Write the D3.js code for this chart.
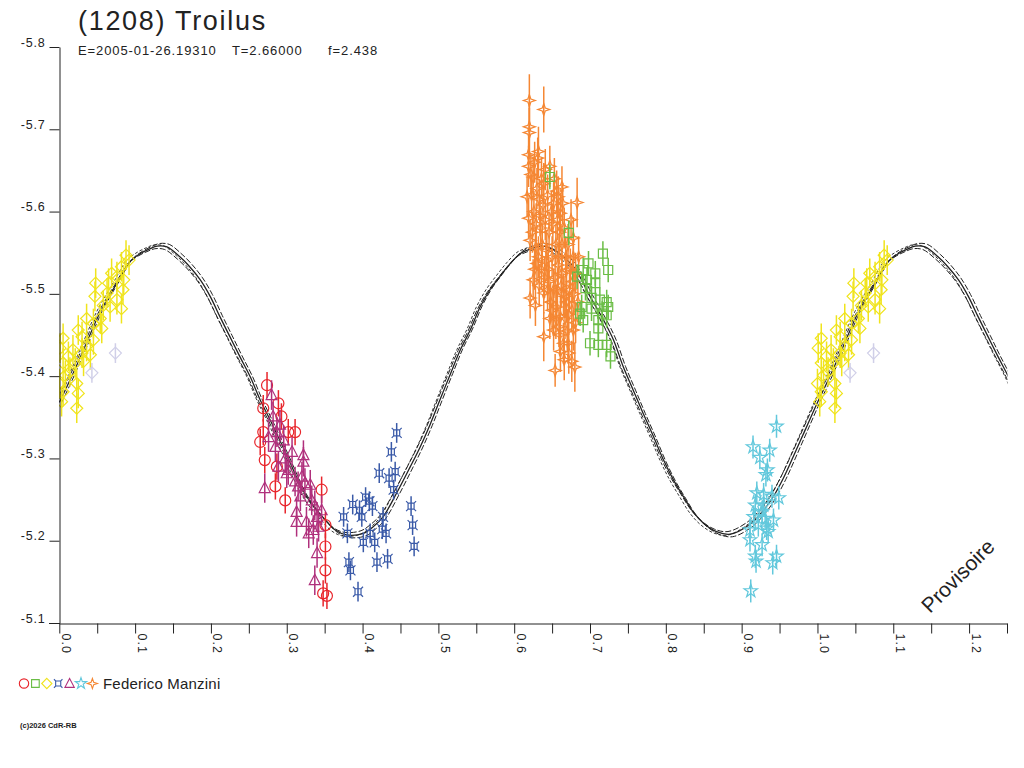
<!DOCTYPE html>
<html>
<head>
<meta charset="utf-8">
<script src="https://cdn.jsdelivr.net/npm/d3@7"></script>
<style>
body{margin:0;background:#fff}
svg{display:block;font-family:"Liberation Sans",Arial,sans-serif}
</style>
</head>
<body>
<svg id="chart" width="1024" height="768"></svg>
<script>
// header texts
var titleText='(1208) Troilus';
var paramTexts=['E=2005-01-26.19310','T=2.66000','f=2.438'];
var observer='Federico Manzini';

// axis ticks
var yTickValues=[-5.8,-5.7,-5.6,-5.5,-5.4,-5.3,-5.2,-5.1];
var xTickValues=[0,0.05,0.1,0.15,0.2,0.25,0.3,0.35,0.4,0.45,0.5,0.55,0.6,0.65,0.7,0.75,0.8,0.85,0.9,0.95,1.0,1.05,1.1,1.15,1.2,1.25];

// fitted lightcurve, phase / mag
var fitCurve=[[0.000,-5.368],[0.014,-5.395],[0.032,-5.432],[0.054,-5.478],[0.076,-5.513],[0.093,-5.539],
 [0.107,-5.549],[0.120,-5.555],[0.129,-5.558],[0.142,-5.557],[0.159,-5.545],[0.172,-5.533],[0.186,-5.517],
 [0.199,-5.497],[0.212,-5.472],[0.225,-5.448],[0.238,-5.424],[0.252,-5.399],[0.265,-5.371],[0.278,-5.347],
 [0.298,-5.308],[0.326,-5.254],[0.351,-5.225],[0.364,-5.213],[0.379,-5.207],[0.401,-5.209],[0.414,-5.217],
 [0.427,-5.229],[0.445,-5.258],[0.463,-5.290],[0.476,-5.314],[0.489,-5.341],[0.502,-5.371],[0.516,-5.403],
 [0.529,-5.432],[0.542,-5.456],[0.555,-5.484],[0.568,-5.505],[0.581,-5.521],[0.595,-5.537],[0.608,-5.549],
 [0.617,-5.553],[0.635,-5.558],[0.650,-5.555],[0.665,-5.545],[0.680,-5.531],[0.700,-5.497],[0.718,-5.468],
 [0.731,-5.444],[0.744,-5.411],[0.757,-5.383],[0.770,-5.355],[0.784,-5.326],[0.797,-5.298],[0.810,-5.274],
 [0.823,-5.254],[0.836,-5.235],[0.850,-5.221],[0.867,-5.211],[0.885,-5.208],[0.911,-5.220],[0.929,-5.237],
 [0.942,-5.254],[0.955,-5.276],[0.968,-5.302],[0.984,-5.335],[1.000,-5.368]];

// observations: [phase, mag, err]
var red=[[0.274,-5.389],[0.269,-5.361],[0.289,-5.367],[0.293,-5.351],[0.269,-5.332],[0.265,-5.320],[0.271,-5.298],
 [0.311,-5.332],[0.302,-5.332],[0.287,-5.290],[0.285,-5.266],[0.298,-5.249],[0.346,-5.262],[0.351,-5.219],
 [0.351,-5.193],[0.351,-5.164],[0.348,-5.136],[0.353,-5.133]];
var magenta=[[0.280,-5.377],[0.282,-5.351],[0.291,-5.341],[0.287,-5.332],[0.276,-5.326],[0.296,-5.322],[0.285,-5.314],
 [0.307,-5.308],[0.322,-5.304],[0.298,-5.300],[0.322,-5.296],[0.289,-5.290],[0.302,-5.286],[0.300,-5.282],
 [0.320,-5.278],[0.311,-5.272],[0.324,-5.270],[0.315,-5.266],[0.331,-5.268],[0.271,-5.264],[0.318,-5.254],
 [0.333,-5.249],[0.337,-5.243],[0.346,-5.237],[0.313,-5.235],[0.340,-5.229],[0.326,-5.223],[0.313,-5.223],
 [0.342,-5.217],[0.335,-5.213],[0.329,-5.209],[0.340,-5.185],[0.337,-5.152]];
var yellow=[[0.088,-5.547],[0.092,-5.541],[0.082,-5.533],[0.076,-5.521],[0.069,-5.525],[0.048,-5.513],[0.085,-5.517],
 [0.065,-5.513],[0.063,-5.501],[0.084,-5.505],[0.047,-5.497],[0.076,-5.493],[0.058,-5.486],[0.067,-5.484],
 [0.082,-5.482],[0.036,-5.470],[0.054,-5.470],[0.045,-5.464],[0.056,-5.458],[0.025,-5.456],[0.030,-5.448],
 [0.005,-5.446],[0.045,-5.444],[0.001,-5.434],[0.036,-5.436],[0.018,-5.432],[0.030,-5.428],[0.041,-5.426],
 [0.012,-5.424],[0.005,-5.416],[0.021,-5.416],[0.032,-5.418],[0.014,-5.405],[0.008,-5.401],[0.000,-5.391],
 [0.023,-5.391],[0.005,-5.381],[0.025,-5.379],[0.003,-5.369],[0.023,-5.361]];
var lavender=[[0.074,-5.428],[0.043,-5.404]];
var blue=[[0.445,-5.331],[0.438,-5.308],[0.422,-5.282],[0.443,-5.284],[0.435,-5.276],[0.441,-5.262],[0.404,-5.253],
 [0.387,-5.244],[0.413,-5.242],[0.409,-5.248],[0.396,-5.237],[0.399,-5.229],[0.375,-5.229],[0.464,-5.242],
 [0.466,-5.219],[0.427,-5.229],[0.426,-5.214],[0.431,-5.209],[0.380,-5.209],[0.410,-5.209],[0.401,-5.198],
 [0.416,-5.198],[0.468,-5.193],[0.433,-5.178],[0.419,-5.174],[0.382,-5.174],[0.384,-5.164],[0.394,-5.138]];
var green=[[0.647,-5.642],[0.672,-5.574],[0.717,-5.549],[0.698,-5.537],[0.724,-5.529],[0.691,-5.529],[0.707,-5.525],
 [0.696,-5.517],[0.707,-5.513],[0.694,-5.507],[0.713,-5.493],[0.702,-5.495],[0.722,-5.490],[0.724,-5.484],
 [0.702,-5.482],[0.716,-5.476],[0.691,-5.468],[0.711,-5.468],[0.722,-5.474],[0.711,-5.458],[0.700,-5.440],
 [0.711,-5.438],[0.722,-5.438],[0.727,-5.424],[0.689,-5.484],[0.687,-5.476],[0.683,-5.521]];
var cyan=[[0.946,-5.339],[0.915,-5.314],[0.937,-5.310],[0.924,-5.301],[0.934,-5.286],[0.932,-5.280],[0.920,-5.258],
 [0.929,-5.256],[0.940,-5.254],[0.949,-5.252],[0.918,-5.243],[0.929,-5.243],[0.927,-5.235],[0.916,-5.229],
 [0.931,-5.227],[0.942,-5.225],[0.922,-5.219],[0.933,-5.215],[0.911,-5.213],[0.935,-5.211],[0.911,-5.201],
 [0.927,-5.195],[0.918,-5.181],[0.946,-5.181],[0.919,-5.175],[0.941,-5.173],[0.912,-5.139]];
var orange=[[0.620,-5.735,0.032],[0.639,-5.724,0.028],[0.620,-5.703,0.03],[0.620,-5.696,0.03],[0.632,-5.673,0.03],
 [0.619,-5.669],[0.619,-5.655],[0.641,-5.651],[0.663,-5.630],[0.617,-5.618],[0.683,-5.611,0.03],[0.658,-5.618],
 [0.619,-5.592],[0.661,-5.598],[0.639,-5.634],[0.625,-5.642],[0.652,-5.610],[0.678,-5.568],[0.621,-5.495],
 [0.639,-5.448,0.03],[0.654,-5.407,0.02],[0.680,-5.411,0.03],[0.676,-5.418],[0.665,-5.440],[0.647,-5.470],
 [0.625,-5.517],[0.652,-5.456],[0.628,-5.486],[0.672,-5.428],[0.661,-5.472],[0.678,-5.456],[0.630,-5.537],
 [0.652,-5.505],[0.643,-5.553],[0.669,-5.529],[0.621,-5.565],[0.678,-5.545],[0.656,-5.484],[0.667,-5.497],
 [0.639,-5.501],[0.622,-5.645],[0.627,-5.660],[0.630,-5.628],[0.633,-5.615],[0.636,-5.640],[0.626,-5.600],
 [0.629,-5.585],[0.634,-5.595],[0.638,-5.608],[0.641,-5.590],[0.644,-5.620],[0.646,-5.575],[0.649,-5.600],
 [0.651,-5.585],[0.655,-5.560],[0.657,-5.590],[0.660,-5.575],[0.663,-5.560],[0.666,-5.580],[0.668,-5.545],
 [0.671,-5.560],[0.674,-5.530],[0.677,-5.515],[0.624,-5.575],[0.628,-5.555],[0.632,-5.545],[0.637,-5.560],
 [0.642,-5.540],[0.645,-5.530],[0.650,-5.545],[0.654,-5.520],[0.658,-5.535],[0.662,-5.510],[0.665,-5.500],
 [0.669,-5.490],[0.672,-5.475],[0.659,-5.460],[0.648,-5.490],[0.640,-5.520],[0.623,-5.620],[0.631,-5.665],
 [0.635,-5.580],[0.647,-5.655],[0.653,-5.640],[0.656,-5.625],[0.664,-5.610],[0.675,-5.590],[0.679,-5.500],
 [0.670,-5.455],[0.661,-5.430],[0.636,-5.530],[0.644,-5.505],[0.650,-5.480],[0.657,-5.505],[0.663,-5.525],
 [0.667,-5.470],[0.673,-5.505],[0.676,-5.480],[0.681,-5.525],[0.684,-5.490],[0.660,-5.450],[0.666,-5.420],
 [0.671,-5.440],[0.655,-5.470],[0.646,-5.515],[0.633,-5.510],[0.627,-5.530],[0.681,-5.465],[0.685,-5.545],
 [0.659,-5.545]];

var svg=d3.select('#chart');

var x=d3.scaleLinear().domain([0,1.25]).range([59.3,1007]);
var y=d3.scaleLinear().domain([-5.8,-5.1]).range([47,623]);

var ink='#222';
var fmt1=function(d){return d.toFixed(1);};  // plain hyphen, not unicode minus

// marker shapes, centred on 0,0
var shapes={
  circle:d3.symbol().type(d3.symbolCircle).size(95)(),
  square:'M-4.5,-4.5h9v9h-9z',
  diamond:'M0,-6L6,0L0,6L-6,0Z',
  loops:'M-3,-3h6v6h-6z M-3,-3l-2,-2 M3,-3l2,-2 M3,3l2,2 M-3,3l-2,2',
  triangle:'M0,-6L5.5,4.5L-5.5,4.5Z',
  star:d3.symbol().type(d3.symbolStar).size(55)(),
  spark:'M0,-6L1.5,-1.5L6,0L1.5,1.5L0,6L-1.5,1.5L-6,0L-1.5,-1.5Z'
};

var series=[
  {pts:red,shape:'circle',color:'#e8252b',err:0.016},
  {pts:magenta,shape:'triangle',color:'#b0307c',err:0.018},
  {pts:yellow,shape:'diamond',color:'#f0e41c',err:0.018},
  {pts:lavender,shape:'diamond',color:'#d0cfe8',err:0.012},
  {pts:blue,shape:'loops',color:'#3a5aa8',err:0.012},
  {pts:cyan,shape:'star',color:'#62c8dc',err:0.014},
  {pts:orange,shape:'spark',color:'#f58733',err:0.025},
  {pts:green,shape:'square',color:'#6abd45',err:0.015}
];
var legendOrder=[0,7,2,4,1,5,6];

// clip to plot box
svg.append('defs').append('clipPath').attr('id','plotclip')
  .append('rect').attr('x',59).attr('y',40).attr('width',948.5).attr('height',590);

var plot=svg.append('g').attr('clip-path','url(#plotclip)');

// phases below 0.25 repeat after 1.0
var wrap=function(pts){
  var out=pts.slice();
  pts.forEach(function(p){ if(p[0]<0.26) out.push([p[0]+1,p[1],p[2]]); });
  return out;
};

// fit band: solid mean curve plus dashed envelope lines
var fitAll=fitCurve.concat(fitCurve.filter(function(p){return p[0]>0&&p[0]<0.27;})
  .map(function(p){return [p[0]+1,p[1]];}));
var mean=-5.383;
var band=[{da:0,dp:0,dash:null,w:1.3},{da:0.018,dp:0.003,dash:'6,2',w:1},
          {da:-0.018,dp:-0.003,dash:'6,2',w:1},{da:0.008,dp:-0.0045,dash:'3,2',w:0.9}];
var line=d3.line().curve(d3.curveCatmullRom.alpha(0.5));
band.forEach(function(b){
  plot.append('path')
    .attr('d',line(fitAll.map(function(p){return [x(p[0]+b.dp),y(mean+(p[1]-mean)*(1+b.da))];})))
    .attr('fill','none').attr('stroke',ink).attr('stroke-width',b.w)
    .attr('stroke-dasharray',b.dash);
});

// observations with error bars
series.forEach(function(s){
  var g=plot.append('g');
  var pts=wrap(s.pts);
  g.selectAll('line').data(pts).enter().append('line')
    .attr('x1',function(d){return x(d[0]);}).attr('x2',function(d){return x(d[0]);})
    .attr('y1',function(d){return y(d[1]-(d[2]||s.err));})
    .attr('y2',function(d){return y(d[1]+(d[2]||s.err));})
    .attr('stroke',s.color).attr('stroke-width',1.5);
  g.selectAll('path').data(pts).enter().append('path')
    .attr('d',shapes[s.shape])
    .attr('transform',function(d){return 'translate('+x(d[0])+','+y(d[1])+')';})
    .attr('fill','none').attr('stroke',s.color).attr('stroke-width',1.2);
});

// y axis
var yAx=svg.append('g').attr('transform','translate(59.5,0)')
  .call(d3.axisLeft(y).tickValues(yTickValues).tickSize(10).tickSizeOuter(0).tickFormat(fmt1));
yAx.selectAll('path,line').attr('stroke',ink);
yAx.selectAll('text').attr('x',-14).attr('dy','-1').attr('fill',ink)
  .style('font-size','12.5px').style('font-family','"Liberation Sans",Arial,sans-serif')
  .style('letter-spacing','0.8px');

// x axis, labels on every 0.1, turned a quarter
var xAx=svg.append('g').attr('transform','translate(0,623.5)')
  .call(d3.axisBottom(x).tickValues(xTickValues).tickSize(10).tickSizeOuter(0)
    .tickFormat(function(d,i){return i%2===0?fmt1(d):'';}));
xAx.selectAll('path,line').attr('stroke',ink);
xAx.selectAll('text').attr('transform','rotate(90)').attr('x',10).attr('y',-2).attr('dy',0)
  .attr('text-anchor','start').attr('fill',ink)
  .style('font-size','12.5px').style('font-family','"Liberation Sans",Arial,sans-serif')
  .style('letter-spacing','1px');
svg.append('line').attr('x1',49).attr('x2',60).attr('y1',623.5).attr('y2',623.5).attr('stroke',ink);

// titles
svg.append('text').attr('x',78).attr('y',30).attr('fill',ink)
  .style('font-size','27px').style('letter-spacing','1.7px').text(titleText);
var px=[78,232,328];
svg.append('g').selectAll('text').data(paramTexts).enter().append('text')
  .attr('x',function(d,i){return px[i];}).attr('y',54.5).attr('fill',ink)
  .style('font-size','13px').style('letter-spacing','0.9px').text(function(d){return d;});

// watermark
svg.append('text').attr('transform','translate(930,614) rotate(-45)').attr('fill',ink)
  .style('font-size','21px').text('Provisoire');

// legend
var lg=svg.append('g').attr('transform','translate(0,683.5)');
legendOrder.forEach(function(k,i){
  var s=series[k];
  lg.append('path').attr('d',shapes[s.shape])
    .attr('transform','translate('+(24+i*11.4)+',0) scale(0.85)')
    .attr('fill','none').attr('stroke',s.color).attr('stroke-width',1.3);
});
lg.append('text').attr('x',103).attr('y',5.5).attr('fill',ink)
  .style('font-size','15px').style('letter-spacing','0.2px').text(observer);

svg.append('text').attr('x',20).attr('y',728).attr('fill',ink)
  .style('font-size','7.5px').style('font-weight','bold').text('(c)2026 CdR-RB');
</script>
</body>
</html>
